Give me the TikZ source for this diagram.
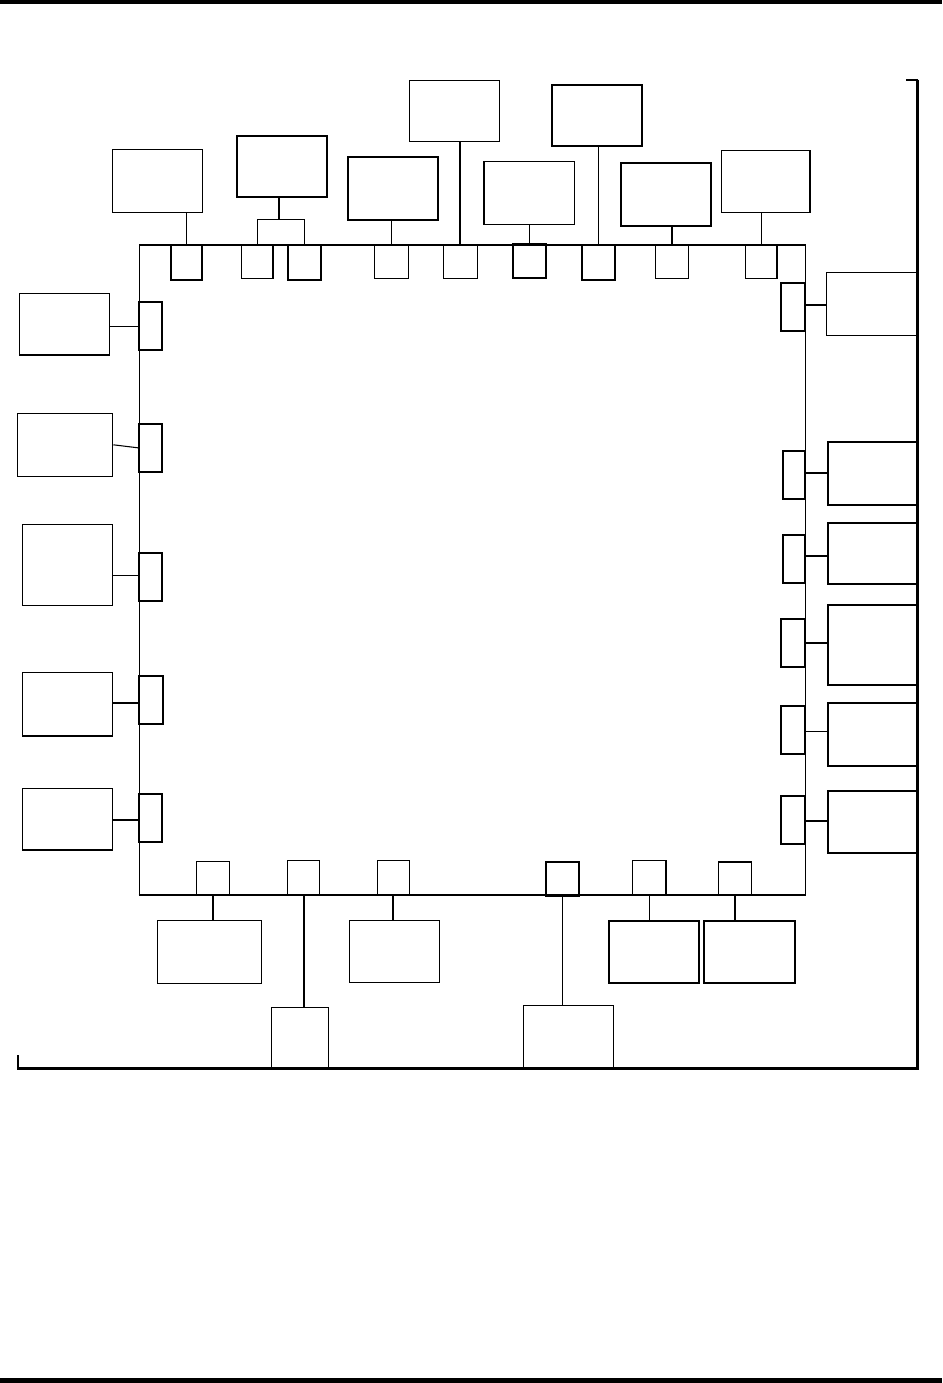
\documentclass[tikz,border=0pt]{standalone}
\usepackage{tikz}
\usetikzlibrary{fit, calc}
\tikzset{
  % module box round the chip
  mbox/.style={rectangle, draw, line width=0.9pt, inner sep=0pt},
  mbox heavy/.style={mbox, line width=1.6pt},
  % pad on the chip edge
  pad/.style={rectangle, draw, line width=0.9pt, inner sep=0pt},
  pad heavy/.style={pad, line width=1.6pt},
  % wires
  wire/.style={line width=0.8pt},
  wire heavy/.style={line width=1.5pt},
}

\begin{document}
\begin{tikzpicture}[x=0.75pt, y=-0.75pt]
  \useasboundingbox (0,0) rectangle (942,1383);

  % page rules
  \fill (0,0) rectangle (942,4.5);
  \fill (0,1378) rectangle (942,1383);

  % frame
  \draw[line width=1.4pt] (906,80.3) -- (917.7,80.3);
  \draw[line width=2pt] (917.7,79.6) -- (917.7,1069);
  \draw[line width=1.6pt] (918.5,1068.5) -- (18,1068.5) -- (18,1055);

  % chip
  \node[mbox, fit={(139.3,245)(805.3,894.7)}] (chip) {};
  \draw[wire heavy] (chip.south west) -- (chip.south east);

  % top modules
  \node[mbox,       fit={(112.3,149.3)(202.7,212.3)}] (t1) {};
  \node[mbox heavy, fit={(236.7,135.7)(327.3,197.3)}] (t2) {};
  \node[mbox heavy, fit={(347.7,156.7)(438.3,220)}]   (t3) {};
  \node[mbox,       fit={(409.3,80.3)(499.3,141.7)}]  (t4) {};
  \node[mbox,       fit={(484,161.3)(574.3,224.3)}]   (t5) {};
  \node[mbox heavy, fit={(551.7,84.7)(642.3,146.3)}]  (t6) {};
  \node[mbox heavy, fit={(620.7,162.7)(711,226)}]     (t7) {};
  \node[mbox,       fit={(721.3,150.7)(810,212.3)}]   (t8) {};

  % top pads
  \node[pad heavy, fit={(170.7,245)(202.3,280)}]   (tp1) {};
  \node[pad,       fit={(241.3,245)(273,278.3)}]   (tp2) {};
  \node[pad heavy, fit={(287.7,245)(321,280)}]     (tp3) {};
  \node[pad,       fit={(374.7,245)(408.3,278.3)}] (tp4) {};
  \node[pad,       fit={(443.3,245)(477.3,278.3)}] (tp5) {};
  \node[pad heavy, fit={(512.7,243.7)(546,278.3)}] (tp6) {};
  \node[pad heavy, fit={(581.7,245)(615,280)}]     (tp7) {};
  \node[pad,       fit={(655.3,245)(688.7,278.3)}] (tp8) {};
  \node[pad,       fit={(745.3,245)(777,278.3)}]   (tp9) {};

  \coordinate (split) at (279,219.7);
  \draw[wire] (tp1.north |- t1.south) -- (tp1.north);
  \draw[wire heavy] (t2.south -| split) -- (split);
  \draw[wire] (tp2.north) |- (split) -| (tp3.north);
  \draw[wire] (tp4.north |- t3.south) -- (tp4.north);
  \draw[wire heavy] (tp5.north |- t4.south) -- (tp5.north);
  \draw[wire] (tp6.north |- t5.south) -- (tp6.north);
  \draw[wire] (tp7.north |- t6.south) -- (tp7.north);
  \draw[wire] (tp8.north |- t7.south) -- (tp8.north);
  \draw[wire] (tp9.north |- t8.south) -- (tp9.north);

  % left modules
  \node[mbox, fit={(19.3,293.3)(109.7,355)}]   (l1) {};
  \node[mbox, fit={(17.3,413.3)(112.7,476.3)}] (l2) {};
  \node[mbox, fit={(22.3,524.3)(112.7,605.3)}] (l3) {};
  \node[mbox, fit={(22.3,672.3)(112.7,736)}]   (l4) {};
  \node[mbox, fit={(22.3,788.3)(112.7,850)}]   (l5) {};

  \node[pad heavy, fit={(139.3,302.3)(162,350.3)}] (lp1) {};
  \node[pad heavy, fit={(139.3,423.7)(162,472)}]   (lp2) {};
  \node[pad heavy, fit={(139.3,552.7)(162,601)}]   (lp3) {};
  \node[pad heavy, fit={(139.3,675.7)(163.3,724)}] (lp4) {};
  \node[pad heavy, fit={(139.3,794.3)(162,842.3)}] (lp5) {};

  \draw[wire] (l1.east |- lp1.west) -- (lp1.west);
  \draw[wire] (l2.east) -- (lp2.west);
  \draw[wire] (l3.east |- 0,575.3) -- (lp3.west |- 0,575.3);
  \draw[wire heavy] (l4.east |- 0,703) -- (lp4.west |- 0,703);
  \draw[wire heavy] (l5.east |- 0,820) -- (lp5.west |- 0,820);

  % right modules
  \node[mbox,       fit={(826.3,272.3)(916.7,335.3)}] (r1) {};
  \node[mbox heavy, fit={(827.7,441.7)(917,505)}]     (r2) {};
  \node[mbox heavy, fit={(827.7,523)(917,584.3)}]     (r3) {};
  \node[mbox heavy, fit={(827.7,605.3)(917,685)}]     (r4) {};
  \node[mbox heavy, fit={(827.7,702.7)(917,766)}]     (r5) {};
  \node[mbox heavy, fit={(827.7,791.3)(917,853)}]     (r6) {};

  \node[pad heavy, fit={(781.3,283)(805.3,330.7)}]   (rp1) {};
  \node[pad heavy, fit={(782.7,450.7)(805.3,498.7)}] (rp2) {};
  \node[pad heavy, fit={(782.7,535)(805.3,583)}]     (rp3) {};
  \node[pad heavy, fit={(781.3,618.7)(805.3,667)}]   (rp4) {};
  \node[pad heavy, fit={(781.3,705.7)(805.3,754)}]   (rp5) {};
  \node[pad heavy, fit={(781.3,795.7)(805.3,844)}]   (rp6) {};

  \draw[wire] (rp1.east |- 0,305) -- (r1.west |- 0,305);
  \draw[wire] (rp2.east |- 0,473) -- (r2.west |- 0,473);
  \draw[wire heavy] (rp3.east |- 0,555.7) -- (r3.west |- 0,555.7);
  \draw[wire heavy] (rp4.east |- 0,642.7) -- (r4.west |- 0,642.7);
  \draw[wire] (rp5.east |- 0,731.3) -- (r5.west |- 0,731.3);
  \draw[wire] (rp6.east |- 0,821) -- (r6.west |- 0,821);

  % bottom modules
  \node[mbox,       fit={(157.3,920.3)(261.3,983.3)}]  (b1) {};
  \node[mbox,       fit={(271.3,1007.3)(328.7,1068)}]  (b2) {};
  \node[mbox,       fit={(349.3,920.3)(439.7,982.3)}]  (b3) {};
  \node[mbox,       fit={(523.3,1005.7)(613.3,1068)}]  (b4) {};
  \node[mbox heavy, fit={(608.7,921.3)(699.3,983.3)}]  (b5) {};
  \node[mbox heavy, fit={(704.3,921.3)(795,983.3)}]    (b6) {};

  \node[pad,       fit={(196.3,861.7)(229.3,894.7)}] (bp1) {};
  \node[pad,       fit={(287.3,860.3)(319.7,894.7)}] (bp2) {};
  \node[pad,       fit={(377.3,860.3)(409.3,894.7)}] (bp3) {};
  \node[pad heavy, fit={(545.7,862)(579.3,896)}]     (bp4) {};
  \node[pad,       fit={(632.7,860.3)(666,894.7)}]   (bp5) {};
  \node[pad,       fit={(718.3,862)(751.3,894.7)}]   (bp6) {};

  \draw[wire heavy] (bp1.south) -- (bp1.south |- b1.north);
  \draw[wire heavy] (bp2.south) -- (bp2.south |- b2.north);
  \draw[wire heavy] (bp3.south) -- (bp3.south |- b3.north);
  \draw[wire] (bp4.south) -- (bp4.south |- b4.north);
  \draw[wire] (bp5.south) -- (bp5.south |- b5.north);
  \draw[wire heavy] (bp6.south) -- (bp6.south |- b6.north);
\end{tikzpicture}
\end{document}
